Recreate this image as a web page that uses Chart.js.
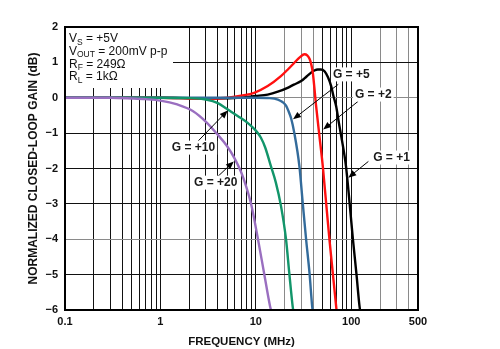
<!DOCTYPE html>
<html><head><meta charset="utf-8">
<script src="https://cdn.jsdelivr.net/npm/chart.js@4/dist/chart.umd.min.js"></script>
<style>html,body{margin:0;padding:0;background:#fff}canvas{display:block}</style>
</head><body>
<canvas id="c" width="500" height="349"></canvas>
<script>
// ---- data ----
const xTickLabels = [0.1, 1, 10, 100, 500];
const yTickLabels = [2, 1, 0, -1, -2, -3, -4, -5, -6];
const seriesNames = ['G = +1', 'G = +2', 'G = +5', 'G = +10', 'G = +20'];

const freqG1 = [0.1, 1, 3, 5.9, 10, 13.3, 17, 21.5, 25, 29.8, 34, 38, 41, 44.5, 48, 52.4, 57, 61.5, 65, 69.4, 74, 78.5, 88, 96, 104, 113, 122, 123.5];
const gainG1 = [0, 0, -0.02, -0.01, 0.05, 0.09, 0.17, 0.28, 0.37, 0.47, 0.6, 0.71, 0.77, 0.8, 0.8, 0.75, 0.58, 0.33, 0.05, -0.24, -0.7, -1.09, -1.94, -2.98, -4.0, -4.96, -5.9, -6];

const freqG2 = [0.1, 1, 2, 3, 5, 7, 9.6, 13.3, 18.3, 22, 25.3, 29, 32.3, 34.5, 36.5, 38, 39.5, 42.8, 46.4, 50.3, 54.5, 59, 64, 69.4, 70];
const gainG2 = [0, 0, -0.02, -0.03, 0, 0.06, 0.14, 0.33, 0.61, 0.82, 0.99, 1.15, 1.23, 1.2, 1.1, 0.95, 0.71, -0.24, -1.09, -1.94, -2.98, -4.0, -4.96, -5.9, -6];

const freqG5 = [0.1, 1, 5, 10, 14, 17, 19, 20.7, 22, 23.4, 25.3, 28.6, 31, 33.6, 36.5, 38.9, 39.3];
const gainG5 = [0, 0, 0, 0, -0.01, -0.05, -0.12, -0.22, -0.38, -0.58, -1.0, -1.94, -2.98, -4.0, -4.96, -5.9, -6];

const freqG10 = [0.1, 1, 2, 3, 4, 5, 6.5, 8.2, 10, 11.3, 12.5, 14.4, 16.2, 18.3, 20.7, 22.4, 24.3, 24.6];
const gainG10 = [0, 0, -0.01, -0.05, -0.15, -0.32, -0.52, -0.71, -0.93, -1.13, -1.4, -1.94, -2.4, -3.05, -4.0, -4.96, -5.9, -6];

const freqG20 = [0.1, 0.3, 0.5, 0.7, 1, 1.5, 2.2, 3.0, 4.0, 5.0, 6.0, 7.0, 8.0, 9.0, 10.4, 12.2, 14.1, 14.4];
const gainG20 = [0, 0, -0.02, -0.04, -0.08, -0.19, -0.38, -0.68, -1.05, -1.37, -1.72, -2.1, -2.55, -3.05, -3.92, -4.96, -5.9, -6];

// ---- styles ----
const seriesColors = ['#000000', '#ff1010', '#336b9b', '#12956a', '#9a6fc0'];
const FONT = 'Arial, "Liberation Sans", sans-serif';

// annotation placement (data units: MHz, dB)
const callouts = [
  {text: 'G = +5',  label: [100, 0.66],  tail: [73, 0.38],   head: [24.5, -0.61]},
  {text: 'G = +2',  label: [170, 0.09],  tail: [118, -0.1],  head: [50.7, -0.9]},
  {text: 'G = +1',  label: [264, -1.69], tail: [151, -1.8],  head: [93, -2.26]},
  {text: 'G = +10', label: [2.22, -1.41],tail: [2.45, -1.24],head: [5.07, -0.36]},
  {text: 'G = +20', label: [3.79, -2.4], tail: [3.98, -2.23],head: [5.87, -1.8]}
];
const conditions = [
  [['V', 0], ['S', 1], [' = +5V', 0]],
  [['V', 0], ['OUT', 1], [' = 200mV p-p', 0]],
  [['R', 0], ['F', 1], [' = 249\u03A9', 0]],
  [['R', 0], ['L', 1], [' = 1k\u03A9', 0]]
];

const series = [
  [freqG1, gainG1], [freqG2, gainG2], [freqG5, gainG5], [freqG10, gainG10], [freqG20, gainG20]
];
const datasets = series.map(([f, g], i) => ({
  label: seriesNames[i],
  data: f.map((x, k) => ({x: x, y: g[k]})),
  borderColor: seriesColors[i],
  borderWidth: 2.4,
  pointRadius: 0,
  fill: false,
  cubicInterpolationMode: 'monotone'
})).reverse();

const gridTicks = [];
[0.1, 1, 10, 100].forEach(d => {
  for (let m = 1; m <= 9; m++) {
    const v = Number((m * d).toPrecision(3));
    if (v <= 500) gridTicks.push(v);
  }
});
const greyX = [20, 30, 40, 200, 300, 400];
const greyY = [0, -4];

function drawArrow(ctx, x1, y1, x2, y2) {
  const ang = Math.atan2(y2 - y1, x2 - x1);
  const L = 8, W = 3.2;
  ctx.beginPath();
  ctx.moveTo(x1, y1);
  ctx.lineTo(x2 - Math.cos(ang) * L * 0.8, y2 - Math.sin(ang) * L * 0.8);
  ctx.lineWidth = 1;
  ctx.strokeStyle = '#000';
  ctx.stroke();
  ctx.beginPath();
  ctx.moveTo(x2, y2);
  ctx.lineTo(x2 - Math.cos(ang) * L + Math.sin(ang) * W, y2 - Math.sin(ang) * L - Math.cos(ang) * W);
  ctx.lineTo(x2 - Math.cos(ang) * L - Math.sin(ang) * W, y2 - Math.sin(ang) * L + Math.cos(ang) * W);
  ctx.closePath();
  ctx.fillStyle = '#000';
  ctx.fill();
}

const annot = {
  id: 'annot',
  beforeDatasetsDraw(chart) {
    const {ctx, chartArea: a} = chart;
    ctx.save();
    ctx.fillStyle = '#fff';
    ctx.fillRect(a.left + 1, a.top + 1, 107, 60);
    ctx.fillStyle = '#111';
    ctx.textBaseline = 'alphabetic';
    ctx.textAlign = 'left';
    conditions.forEach((parts, i) => {
      let x = a.left + 4;
      const y = a.top + 15 + i * 12.8;
      parts.forEach(([t, sub]) => {
        ctx.font = sub ? '8.5px ' + FONT : '12px ' + FONT;
        ctx.fillText(t, x, sub ? y + 2.5 : y);
        x += ctx.measureText(t).width;
      });
    });
    ctx.restore();
  },
  afterDatasetsDraw(chart) {
    const {ctx, chartArea: a, scales: {x, y}} = chart;
    ctx.save();
    callouts.forEach(c => {
      const tx = x.getPixelForValue(c.tail[0]), ty = y.getPixelForValue(c.tail[1]);
      const hx = x.getPixelForValue(c.head[0]), hy = y.getPixelForValue(c.head[1]);
      drawArrow(ctx, tx, ty, hx, hy);
    });
    ctx.font = 'bold 12px ' + FONT;
    ctx.textAlign = 'center';
    ctx.textBaseline = 'middle';
    callouts.forEach(c => {
      const lx = x.getPixelForValue(c.label[0]), ly = y.getPixelForValue(c.label[1]);
      const w = ctx.measureText(c.text).width;
      ctx.fillStyle = '#fff';
      ctx.fillRect(lx - w / 2 - 2, ly - 7, w + 4, 14);
      ctx.fillStyle = '#1a1a1a';
      ctx.fillText(c.text, lx, ly + 0.5);
    });
    ctx.strokeStyle = '#000';
    ctx.lineWidth = 2;
    ctx.strokeRect(a.left, a.top, a.right - a.left, a.bottom - a.top);
    ctx.restore();
  }
};

new Chart(document.getElementById('c'), {
  type: 'line',
  data: {datasets},
  options: {
    responsive: false,
    animation: false,
    events: [],
    layout: {padding: {top: 27, right: 82, left: 0, bottom: 0}},
    plugins: {legend: {display: false}, tooltip: {enabled: false}},
    scales: {
      x: {
        type: 'logarithmic',
        min: 0.1, max: 500,
        afterBuildTicks: s => { s.ticks = gridTicks.map(v => ({value: v})); },
        afterFit: s => { s.height = 39; },
        ticks: {
          autoSkip: false, maxRotation: 0, minRotation: 0, padding: 5,
          color: '#111', font: {family: FONT, size: 11, weight: 'bold'},
          callback: v => xTickLabels.includes(Number(v.toPrecision(3))) ? String(Number(v.toPrecision(3))) : ''
        },
        grid: {
          drawTicks: false,
          color: ctx => greyX.includes(ctx.tick && Number(ctx.tick.value.toPrecision(3))) ? '#8a8a8a' : '#111',
          lineWidth: 1
        },
        border: {display: false},
        title: {display: true, text: 'FREQUENCY (MHz)', color: '#111',
          font: {family: FONT, size: 11.5, weight: 'bold'}, padding: {top: 0, bottom: 0}}
      },
      y: {
        min: -6, max: 2,
        afterBuildTicks: s => { s.ticks = yTickLabels.map(v => ({value: v})); },
        afterFit: s => { s.width = 65; },
        ticks: {
          padding: 7, color: '#111', font: {family: FONT, size: 11, weight: 'bold'},
          callback: v => String(v).replace('-', '\u2212')
        },
        grid: {
          drawTicks: false,
          color: ctx => greyY.includes(ctx.tick && ctx.tick.value) ? '#8a8a8a' : '#111',
          lineWidth: 1
        },
        border: {display: false},
        title: {display: true, text: 'NORMALIZED CLOSED-LOOP GAIN (dB)', color: '#111',
          font: {family: FONT, size: 12, weight: 'bold'}, padding: {top: 26, bottom: 0}}
      }
    }
  },
  plugins: [annot]
});
</script>
</body></html>
